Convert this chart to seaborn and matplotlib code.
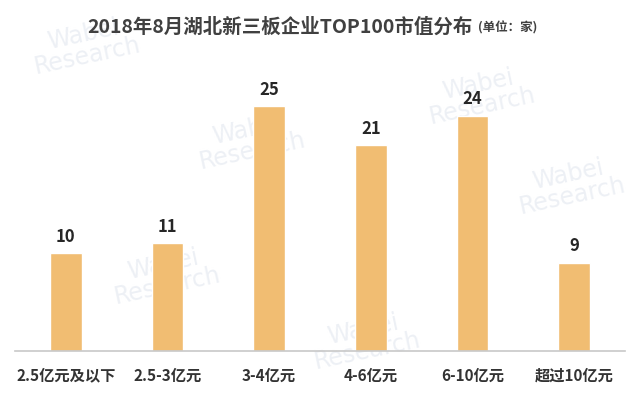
import matplotlib
matplotlib.use("Agg")
import matplotlib.pyplot as plt
import seaborn as sns
import pandas as pd

categories = ["2.5亿元及以下", "2.5-3亿元", "3-4亿元", "4-6亿元", "6-10亿元", "超过10亿元"]
counts = [10, 11, 25, 21, 24, 9]
title_main = "2018年8月湖北新三板企业TOP100市值分布"
title_unit = "(单位：家)"

sns.set_theme(style="white")
plt.rcParams['font.family'] = ['Noto Sans CJK SC', 'DejaVu Sans']

df = pd.DataFrame({"cat": categories, "n": counts})

fig = plt.figure(figsize=(6.4, 3.99), dpi=100)
ax = fig.add_axes([15/640, 48/399, 610/640, 294/399])
ax.patch.set_alpha(0)
ax.set_zorder(1)

# faint watermarks
wm_pos = [(85, 45), (250, 140), (165, 275), (365, 340), (480, 95), (570, 185)]
for (px, py) in wm_pos:
    fig.text(px/640, 1 - py/399, "Wabei\nResearch", fontsize=17, color="#EDF0F5",
             ha="center", va="center", rotation=12, zorder=-1, linespacing=0.9,
             family=['DejaVu Sans'])

sns.barplot(data=df, x="cat", y="n", color="#F1BD72", width=0.31, ax=ax,
            saturation=1, zorder=2)

for i, v in enumerate(counts):
    ax.text(i, v + 0.75, str(v), ha="center", va="bottom", fontsize=12,
            fontweight="bold", color="#262626")

ax.set_xlim(-0.5, 5.5)
ax.set_ylim(0, 30)
ax.set_xlabel("")
ax.set_ylabel("")
ax.set_yticks([])
for s in ["top", "right", "left"]:
    ax.spines[s].set_visible(False)
ax.spines["bottom"].set_color("#C8C8C8")
ax.spines["bottom"].set_linewidth(1.2)
ax.tick_params(axis="x", length=0, pad=12)
for lab in ax.get_xticklabels():
    lab.set_fontsize(11)
    lab.set_fontweight("bold")
    lab.set_color("#333333")

fig.text(473/640, 1 - 27/399, title_main, ha="right", va="center", fontsize=14,
         fontweight="bold", color="#404040")
fig.text(478/640, 1 - 28/399, title_unit, ha="left", va="center", fontsize=9,
         fontweight="bold", color="#404040")

fig.savefig("out.png", dpi=100)
